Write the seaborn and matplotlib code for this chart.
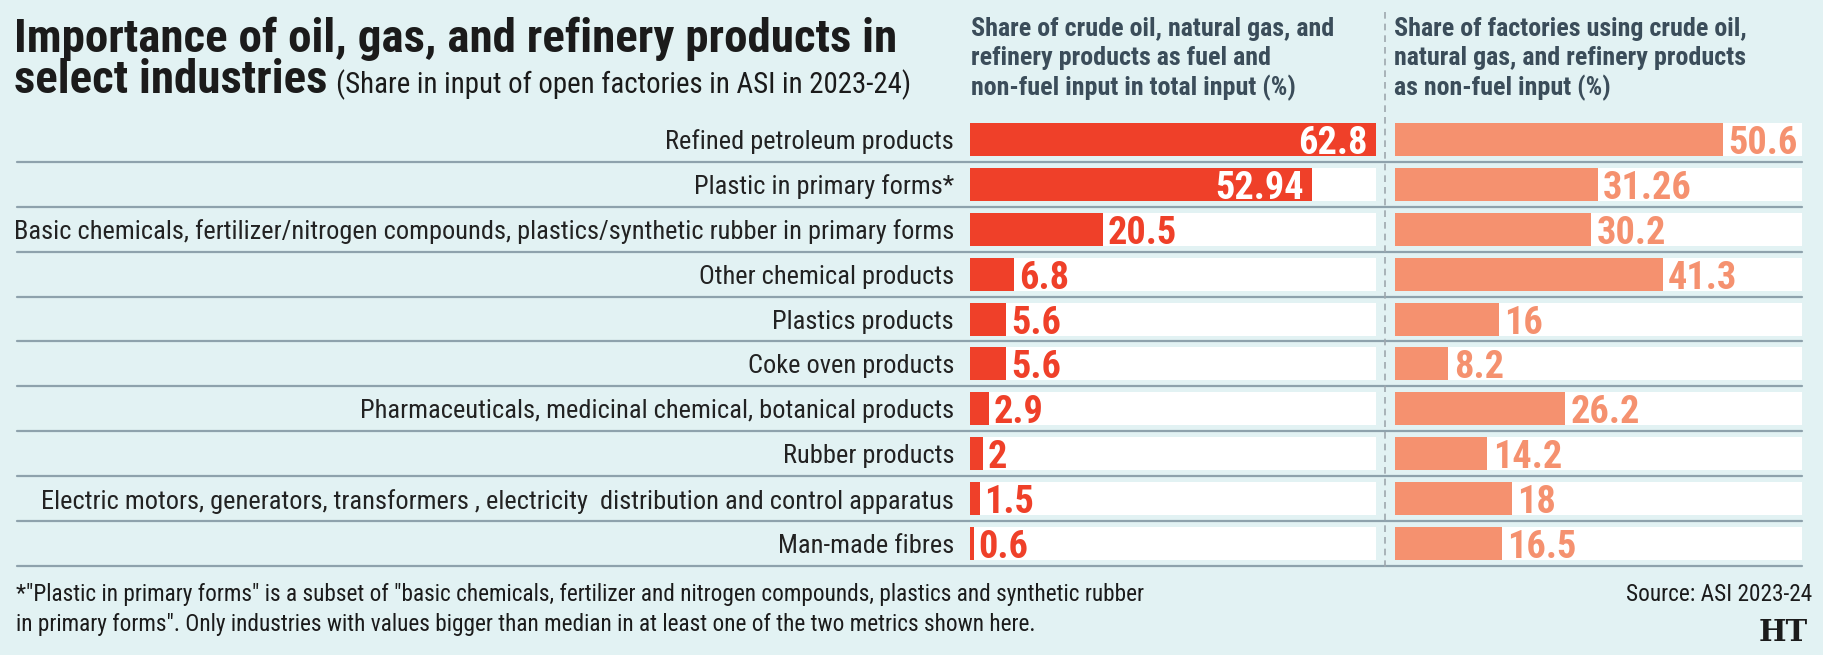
import matplotlib
matplotlib.use("Agg")
import matplotlib.pyplot as plt
import seaborn as sns
import pandas as pd
from matplotlib.lines import Line2D

# --- datos ---
industries = [
    "Refined petroleum products",
    "Plastic in primary forms*",
    "Basic chemicals, fertilizer/nitrogen compounds, plastics/synthetic rubber in primary forms",
    "Other chemical products",
    "Plastics products",
    "Coke oven products",
    "Pharmaceuticals, medicinal chemical, botanical products",
    "Rubber products",
    "Electric motors, generators, transformers , electricity  distribution and control apparatus",
    "Man-made fibres",
]
fuel_share = [62.8, 52.94, 20.5, 6.8, 5.6, 5.6, 2.9, 2, 1.5, 0.6]
factory_share = [50.6, 31.26, 30.2, 41.3, 16, 8.2, 26.2, 14.2, 18, 16.5]

title_1 = "Importance of oil, gas, and refinery products in"
title_2 = "select industries"
subtitle = "(Share in input of open factories in ASI in 2023-24)"
header_left = ["Share of crude oil, natural gas, and",
               "refinery products as fuel and",
               "non-fuel input in total input (%)"]
header_right = ["Share of factories using crude oil,",
                "natural gas, and refinery products",
                "as non-fuel input (%)"]
footnote = ['*"Plastic in primary forms" is a subset of "basic chemicals, fertilizer and nitrogen compounds, plastics and synthetic rubber',
            'in primary forms". Only industries with values bigger than median in at least one of the two metrics shown here.']
source = "Source: ASI 2023-24"

df = pd.DataFrame({"industry": industries, "fuel": fuel_share, "factories": factory_share})

# --- estilo ---
BG = "#e2f2f3"
RED = "#ef4029"
SALMON = "#f5916f"
SEP = "#8ea2ac"
DARK = "#1b1b1b"
SLATE = "#3b4d5a"

sns.set_style("white")
plt.rcParams["font.family"] = ["Roboto Condensed", "DejaVu Sans"]

W, H = 1824, 655
fig = plt.figure(figsize=(W / 100, H / 100), dpi=100, facecolor=BG)
renderer = fig.canvas.get_renderer()


def fx(x):
    return x / W


def fy(y):
    return 1 - y / H


def fit_size(s, target, size=20, **kw):
    # tamaño de fuente para que el texto ocupe 'target' px de ancho
    t = fig.text(0, 0, s, fontsize=size, **kw)
    w = t.get_window_extent(renderer).width
    t.remove()
    return size * target / w


top, bottom = 117, 566
ax_l = fig.add_axes([fx(970), fy(bottom), 406 / W, (bottom - top) / H])
ax_r = fig.add_axes([fx(1395), fy(bottom), 407 / W, (bottom - top) / H])

n = len(industries)
bar_w = 0.735
xmax = max(fuel_share)

for ax, col, color in [(ax_l, "fuel", RED), (ax_r, "factories", SALMON)]:
    ax.set_facecolor("none")
    for i in range(n):
        ax.axhspan(i - bar_w / 2, i + bar_w / 2, color="white", zorder=0, lw=0)
    sns.barplot(data=df, x=col, y="industry", ax=ax, color=color, orient="h",
                width=bar_w, saturation=1, linewidth=0, zorder=2)
    ax.set_xlim(0, xmax)
    ax.set_ylim(n - 0.5, -0.5)
    ax.set_xlabel("")
    ax.set_ylabel("")
    ax.set_xticks([])
    sns.despine(ax=ax, left=True, bottom=True)

label_size = fit_size(industries[2], 940)
ax_l.tick_params(axis="y", length=0, pad=11.5, labelsize=label_size, labelcolor="#222222")
ax_r.set_yticks([])

# separadores horizontales
x0 = (17 - 970) / 406
x1 = (1802 - 970) / 406
for i in range(n):
    ax_l.axhline(i + 0.5, xmin=x0, xmax=x1, color=SEP, lw=1.6, clip_on=False, zorder=3)

# etiquetas de valores
val_size = fit_size("52.94", 89, fontweight="bold")
for i, v in enumerate(fuel_share):
    if v > 40:
        ax_l.annotate(f"{v:g}", (v, i), xytext=(-6, 0), textcoords="offset points",
                      ha="right", va="center_baseline", color="white", fontsize=val_size, fontweight="bold")
    else:
        ax_l.annotate(f"{v:g}", (v, i), xytext=(3.5, 0), textcoords="offset points",
                      ha="left", va="center_baseline", color=RED, fontsize=val_size, fontweight="bold")
for i, v in enumerate(factory_share):
    ax_r.annotate(f"{v:g}", (v, i), xytext=(4, 0), textcoords="offset points",
                  ha="left", va="center_baseline", color=SALMON, fontsize=val_size, fontweight="bold")

# divisor punteado
fig.add_artist(Line2D([fx(1385)] * 2, [fy(12), fy(567)], color="#9ea8ae", lw=1.2,
                      ls=(0, (4, 3))))

# titulos
title_size = fit_size(title_1, 882, fontweight="bold")
fig.text(fx(14), fy(52), title_1, fontsize=title_size, fontweight="bold", color=DARK, va="baseline")
t2 = fig.text(fx(14), fy(93), title_2, fontsize=title_size, fontweight="bold", color=DARK, va="baseline")
bb = t2.get_window_extent(renderer)
sub_size = fit_size(subtitle, 574)
fig.text(bb.x1 / W + fx(9), fy(93), subtitle, fontsize=sub_size, color=DARK, va="baseline")

head_size = fit_size(header_left[0], 364, fontweight="bold")
for k, (a, b) in enumerate(zip(header_left, header_right)):
    yb = fy(36 + 29.5 * k)
    fig.text(fx(971), yb, a, fontsize=head_size, fontweight="bold", color=SLATE, va="baseline")
    fig.text(fx(1394), yb, b, fontsize=head_size, fontweight="bold", color=SLATE, va="baseline")

# pie
foot_size = fit_size(footnote[0], 1130)
for k, line in enumerate(footnote):
    fig.text(fx(16), fy(601 + 30 * k), line, fontsize=foot_size, color=DARK, va="baseline")
fig.text(fx(1812), fy(601), source, fontsize=foot_size, color=DARK, va="baseline", ha="right")
fig.text(fx(1808), fy(641), "HT", fontsize=21, fontweight="bold",
         family="DejaVu Serif", color=DARK, va="baseline", ha="right")

fig.savefig("out.png", dpi=100, facecolor=BG)
